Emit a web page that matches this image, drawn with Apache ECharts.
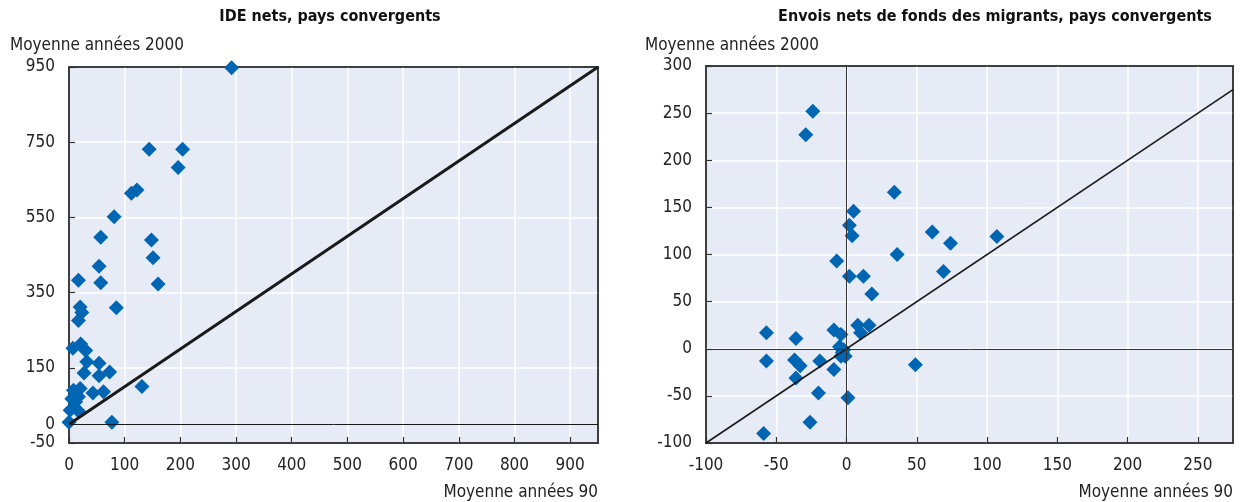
<!DOCTYPE html>
<html>
<head>
<meta charset="utf-8">
<script src="https://cdn.jsdelivr.net/npm/echarts@6/dist/echarts.min.js"></script>
<style>
  html, body { margin: 0; padding: 0; background: #fff; }
  #main { width: 1240px; height: 502px; }
</style>
</head>
<body>
<div id="main"></div>
<script>
// IDE nets : [moyenne années 90, moyenne années 2000]
var idePoints = [
  [292, 948], [144, 731], [204, 731], [196, 683], [112, 614], [122, 623],
  [81, 552], [57, 497], [148, 490], [151, 443], [54, 420], [17, 383],
  [57, 376], [160, 373], [20, 312], [23, 297], [17, 276], [85, 310],
  [7, 202], [21, 213], [30, 196], [32, 166], [54, 162], [27, 136],
  [54, 129], [73, 139], [131, 100], [8, 90], [20, 95], [5, 68],
  [17, 73], [43, 83], [62, 86], [2, 37], [17, 35], [0, 5], [77, 5], [12, 60]
];
// Envois nets de fonds des migrants
var envoisPoints = [
  [-24, 252], [-29, 227], [34, 166], [5, 146], [2, 131], [4, 120],
  [61, 124], [74, 112], [107, 119], [36, 100], [-7, 93], [2, 77],
  [12, 77], [69, 82], [18, 58], [-57, 17], [-36, 11], [-9, 20],
  [-4, 15], [8, 25], [16, 25], [10, 17], [-5, 2], [-2, -1],
  [-4, -8], [-1, -8], [-3, -4], [-57, -13], [-37, -12], [-33, -18],
  [-19, -13], [-9, -22], [49, -17], [-36, -31], [-20, -47], [1, -52],
  [-26, -78], [-59, -90]
];
// diagonales y = x
var ideDiag = [[0, 0], [950, 950]];
var envoisDiag = [[-100, -100], [275, 275]];

var titles = ['IDE nets, pays convergents', 'Envois nets de fonds des migrants, pays convergents'];
var yName = 'Moyenne années 2000';
var xName = 'Moyenne années 90';

var FONT = '"Liberation Sans Narrow", "DejaVu Sans Condensed", sans-serif';
var BLUE = '#0066b3';
var BG = '#e7ebf6';

function axisStyle() {
  return {
    axisLine: { show: true, onZero: false, lineStyle: { color: '#333', width: 1.5 } },
    axisTick: { show: true, inside: true, length: 6, lineStyle: { color: '#333', width: 1.2 } },
    splitLine: { show: true, showMinLine: false, showMaxLine: false, lineStyle: { color: '#ffffff', width: 1.5 } },
    axisLabel: { color: '#222', fontSize: 17, fontFamily: FONT, margin: 14 }
  };
}
// axe de cadre (haut / droite) : seulement la ligne
function frameAxis(type, grid, pos, min, max) {
  return {
    type: 'value', gridIndex: grid, position: pos, min: min, max: max,
    axisLine: { show: true, onZero: false, lineStyle: { color: '#333', width: 1.5 } },
    axisTick: { show: false }, axisLabel: { show: false }, splitLine: { show: false }
  };
}

var myChart = echarts.init(document.getElementById('main'));

var xa0 = axisStyle(), xa1 = axisStyle(), ya0 = axisStyle(), ya1 = axisStyle();
xa0.axisLabel.showMaxLabel = false;
xa1.axisLabel.showMaxLabel = false;

var option = {
  animation: false,
  grid: [
    { left: 69, top: 67, width: 529, height: 376, show: true, backgroundColor: BG, borderColor: '#333', borderWidth: 1.5 },
    { left: 706, top: 66, width: 527, height: 377, show: true, backgroundColor: BG, borderColor: '#333', borderWidth: 1.5 }
  ],
  xAxis: [
    Object.assign({ type: 'value', gridIndex: 0, min: 0, max: 950, interval: 100 }, xa0),
    Object.assign({ type: 'value', gridIndex: 1, min: -100, max: 275, interval: 50 }, xa1),
    frameAxis('x', 0, 'top', 0, 950),
    frameAxis('x', 1, 'top', -100, 275)
  ],
  yAxis: [
    Object.assign({ type: 'value', gridIndex: 0, min: -50, max: 950, interval: 200 }, ya0),
    Object.assign({ type: 'value', gridIndex: 1, min: -100, max: 300, interval: 50 }, ya1),
    frameAxis('y', 0, 'right', -50, 950),
    frameAxis('y', 1, 'right', -100, 300)
  ],
  graphic: [
    { type: 'text', x: 330, y: 9, style: { text: titles[0], font: 'bold 16px ' + FONT, fill: '#111', textAlign: 'center' } },
    { type: 'text', x: 995, y: 9, style: { text: titles[1], font: 'bold 16px ' + FONT, fill: '#111', textAlign: 'center' } },
    { type: 'text', x: 10, y: 37, style: { text: yName, font: '17px ' + FONT, fill: '#222' } },
    { type: 'text', x: 645, y: 37, style: { text: yName, font: '17px ' + FONT, fill: '#222' } },
    { type: 'text', x: 598, y: 484, style: { text: xName, font: '17px ' + FONT, fill: '#222', textAlign: 'right' } },
    { type: 'text', x: 1233, y: 484, style: { text: xName, font: '17px ' + FONT, fill: '#222', textAlign: 'right' } }
  ],
  series: [
    {
      type: 'line', xAxisIndex: 0, yAxisIndex: 0, data: ideDiag, symbol: 'none', silent: true,
      lineStyle: { color: '#1a1a1a', width: 3 },
      markLine: {
        silent: true, symbol: 'none',
        lineStyle: { color: '#1a1a1a', width: 1, type: 'solid' },
        label: { show: true, position: 'start', formatter: '0', color: '#222', fontSize: 17, fontFamily: FONT, distance: 14 },
        data: [{ yAxis: 0 }]
      }
    },
    {
      type: 'scatter', xAxisIndex: 0, yAxisIndex: 0, data: idePoints,
      symbol: 'diamond', symbolSize: 15, itemStyle: { color: BLUE, opacity: 1 }
    },
    {
      type: 'line', xAxisIndex: 1, yAxisIndex: 1, data: envoisDiag, symbol: 'none', silent: true,
      lineStyle: { color: '#1a1a1a', width: 1.6 },
      markLine: {
        silent: true, symbol: 'none',
        lineStyle: { color: '#333', width: 1, type: 'solid' },
        label: { show: false },
        data: [{ xAxis: 0 }, { yAxis: 0 }]
      }
    },
    {
      type: 'scatter', xAxisIndex: 1, yAxisIndex: 1, data: envoisPoints,
      symbol: 'diamond', symbolSize: 15, itemStyle: { color: BLUE, opacity: 1 }
    }
  ]
};

myChart.setOption(option);
window.onresize = myChart.resize;
</script>
</body>
</html>
